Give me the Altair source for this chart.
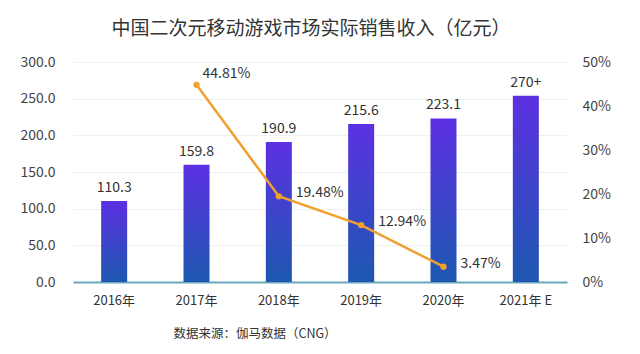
import altair as alt
import pandas as pd

years = ["2016年", "2017年", "2018年", "2019年", "2020年", "2021年 E"]
revenue = [110.3, 159.8, 190.9, 215.6, 223.1, 254.0]
revenue_labels = ["110.3", "159.8", "190.9", "215.6", "223.1", "270+"]
growth = [None, 44.81, 19.48, 12.94, 3.47, None]
growth_labels = ["", "44.81%", "19.48%", "12.94%", "3.47%", ""]
left_ticks = [0, 50, 100, 150, 200, 250, 300]
right_ticks = [0, 10, 20, 30, 40, 50]
title_text = "中国二次元移动游戏市场实际销售收入（亿元）"
source_text = "数据来源：伽马数据（CNG）"

FONT = "Noto Sans CJK SC"

df = pd.DataFrame({
    "year": years,
    "revenue": revenue,
    "rlabel": revenue_labels,
    "growth": growth,
    "glabel": growth_labels,
})

x_enc = alt.X(
    "year:N", sort=years, title=None,
    scale=alt.Scale(paddingInner=0.68, paddingOuter=0.34),
    axis=alt.Axis(labelAngle=0, labelFontSize=13, labelColor="#333333", labelPadding=12,
                  ticks=False, domainColor="#6aa7bd", domainWidth=2, labelFont=FONT),
)

y_left = alt.Y(
    "revenue:Q", title=None,
    scale=alt.Scale(domain=[0, 300], nice=False),
    axis=alt.Axis(values=left_ticks, format=".1f", labelFontSize=14, labelColor="#444444",
                  labelPadding=18, ticks=False, domain=False, gridColor="#eef0f4",
                  labelOverlap=False, labelFont=FONT),
)

y_right = alt.Y(
    "growth:Q", title=None,
    scale=alt.Scale(domain=[0, 50], nice=False),
    axis=alt.Axis(values=right_ticks, labelExpr="datum.value + '%'", orient="right",
                  labelFontSize=14, labelColor="#444444", labelPadding=15, ticks=False,
                  domain=False, grid=False, labelOverlap=False, labelFont=FONT),
)

base = alt.Chart(df)

bars = base.mark_bar(
    size=26,
    color=alt.Gradient(
        gradient="linear", x1=0, x2=0, y1=0, y2=1,
        stops=[alt.GradientStop(color="#5c30e2", offset=0),
               alt.GradientStop(color="#1d58b0", offset=1)],
    ),
).encode(x=x_enc, y=y_left)

bar_text = base.mark_text(dy=-13, fontSize=14, color="#333333", font=FONT).encode(
    x=x_enc, y=y_left, text="rlabel:N"
)

left_layer = alt.layer(bars, bar_text)

gbase = base.transform_filter("isValid(datum.growth)")

line = gbase.mark_line(color="#f0a02c", strokeWidth=2.5).encode(x=x_enc, y=y_right)
points = gbase.mark_point(filled=True, size=40, color="#f0a02c", opacity=1).encode(
    x=x_enc, y=y_right
)
gtext_first = gbase.transform_filter("datum.year == '2017年'").mark_text(
    align="left", dx=6, dy=-11, fontSize=14, color="#333333", font=FONT
).encode(x=x_enc, y=y_right, text="glabel:N")
gtext_rest = gbase.transform_filter("datum.year != '2017年'").mark_text(
    align="left", dx=17, dy=-3, fontSize=14, color="#333333", font=FONT
).encode(x=x_enc, y=y_right, text="glabel:N")

right_layer = alt.layer(line, points, gtext_first, gtext_rest)

source = alt.Chart(pd.DataFrame({"t": [source_text]})).mark_text(
    fontSize=12.5, color="#333333", font=FONT, align="center", baseline="middle"
).encode(x=alt.value(182), y=alt.value(272), text="t:N")

chart = alt.layer(left_layer, right_layer, source).resolve_scale(y="independent").properties(
    width=494, height=220,
    padding={"left": 73, "top": 62, "right": 73, "bottom": 72},
    autosize=alt.AutoSizeParams(type="none"),
    title=alt.TitleParams(title_text, fontSize=19, color="#333333", fontWeight="normal",
                          font=FONT, anchor="middle", offset=16, dx=-9),
    background="white",
).configure_view(stroke=None)

chart.save("out.html", embed_options={"renderer": "svg", "actions": False})
